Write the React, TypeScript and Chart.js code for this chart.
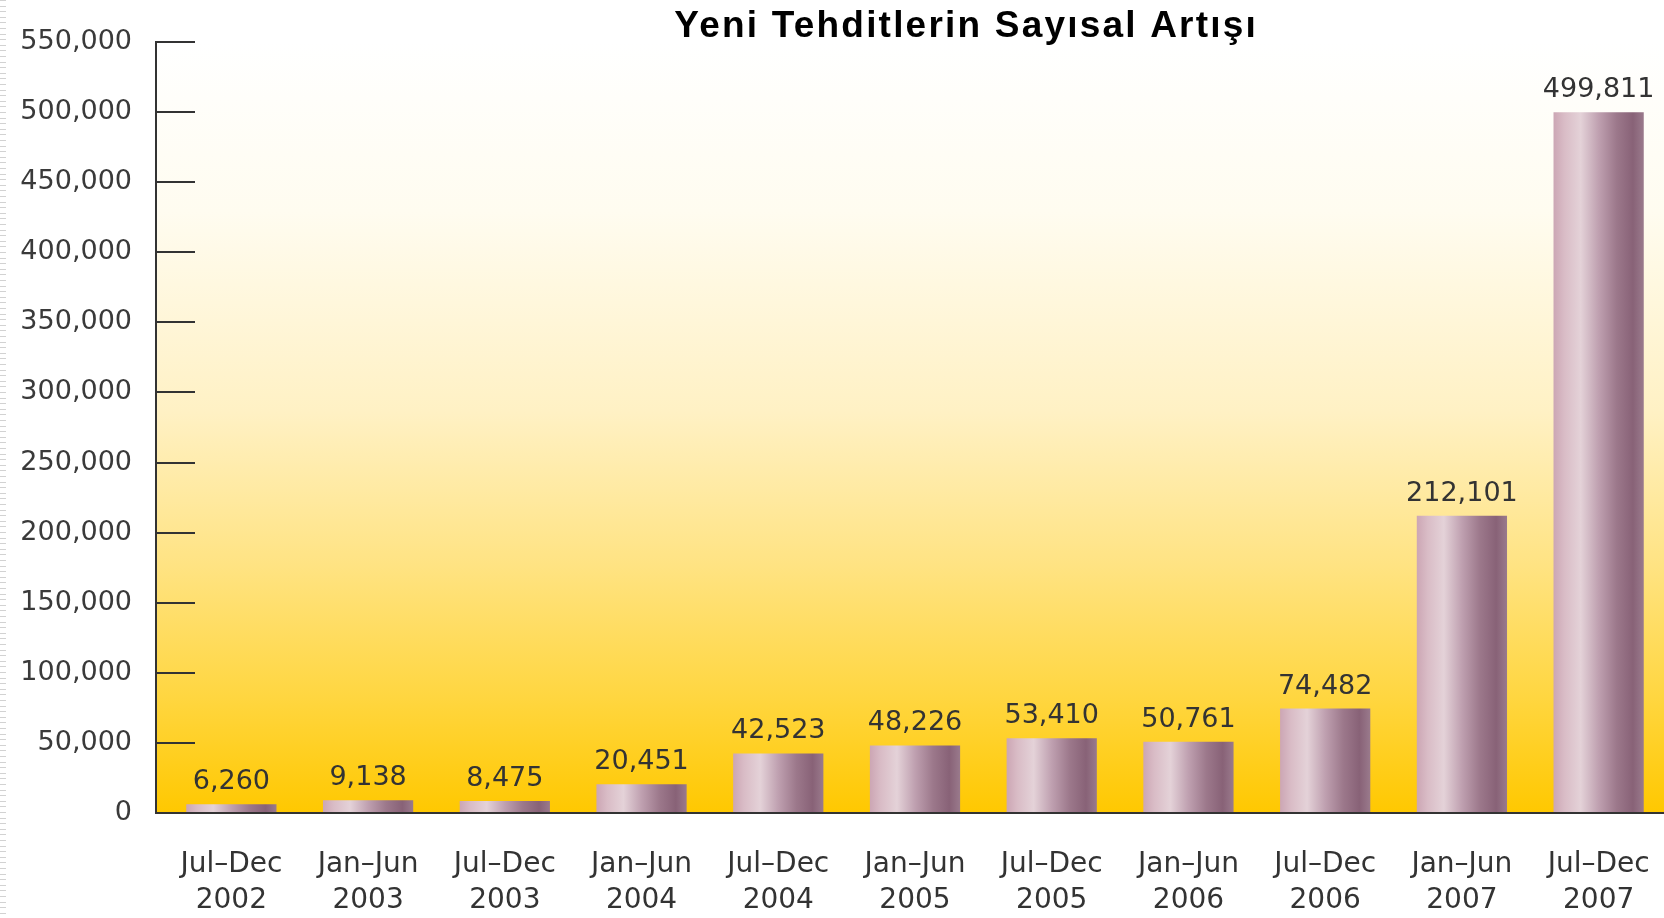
import { useEffect, useRef } from 'react';
import { Chart, registerables } from 'chart.js';

Chart.register(...registerables);

const TITLE = 'Yeni Tehditlerin Sayısal Artışı';
const periods = ['Jul–Dec', 'Jan–Jun', 'Jul–Dec', 'Jan–Jun', 'Jul–Dec', 'Jan–Jun', 'Jul–Dec', 'Jan–Jun', 'Jul–Dec', 'Jan–Jun', 'Jul–Dec'];
const years = ['2002', '2003', '2003', '2004', '2004', '2005', '2005', '2006', '2006', '2007', '2007'];
const newThreats = [6260, 9138, 8475, 20451, 42523, 48226, 53410, 50761, 74482, 212101, 499811];
const yMin = 0;
const yMax = 550000;
const yStep = 50000;

const BAR_PCT = 0.66;
const AXIS_GAP = 7;
const FONT = '"DejaVu Sans", Verdana, sans-serif';
const fmt = (v: number) => v.toLocaleString('en-US');

const plotBackground = {
  id: 'plotBackground',
  beforeDraw(chart: any) {
    const { ctx, chartArea } = chart;
    if (!chartArea) return;
    const g = ctx.createLinearGradient(0, chartArea.top, 0, chartArea.bottom);
    g.addColorStop(0, '#FFFFFF');
    g.addColorStop(0.22, '#FFFCF0');
    g.addColorStop(0.48, '#FFF1C4');
    g.addColorStop(0.68, '#FFE382');
    g.addColorStop(0.85, '#FFD640');
    g.addColorStop(1, '#FFC800');
    const left = chartArea.left - AXIS_GAP;
    ctx.save();
    ctx.fillStyle = g;
    ctx.fillRect(left, chartArea.top, chart.width - left, chartArea.bottom - chartArea.top);
    ctx.restore();
  },
};

const axesPlugin = {
  id: 'axesPlugin',
  afterDraw(chart: any) {
    const { ctx, chartArea } = chart;
    const y = chart.scales.y;
    const ax = chartArea.left - AXIS_GAP;
    ctx.save();
    ctx.strokeStyle = '#333333';
    ctx.lineWidth = 2;
    ctx.beginPath();
    ctx.moveTo(ax, chartArea.top - 1);
    ctx.lineTo(ax, chartArea.bottom + 1);
    ctx.stroke();
    ctx.beginPath();
    ctx.moveTo(ax - 1, chartArea.bottom);
    ctx.lineTo(chart.width, chartArea.bottom);
    ctx.stroke();
    y.ticks.forEach((t: any) => {
      if (t.value === yMin) return;
      const py = Math.round(y.getPixelForValue(t.value));
      ctx.beginPath();
      ctx.moveTo(ax, py);
      ctx.lineTo(ax + 39, py);
      ctx.stroke();
    });
    ctx.restore();
  },
};

const valueLabels = {
  id: 'valueLabels',
  afterDatasetsDraw(chart: any) {
    const { ctx } = chart;
    const meta = chart.getDatasetMeta(0);
    ctx.save();
    ctx.font = `27px ${FONT}`;
    ctx.fillStyle = '#333333';
    ctx.textAlign = 'center';
    ctx.textBaseline = 'alphabetic';
    meta.data.forEach((el: any, i: number) => {
      ctx.fillText(fmt(newThreats[i]), el.x, el.y - 15);
    });
    ctx.restore();
  },
};

const titlePlugin = {
  id: 'customTitle',
  afterDraw(chart: any) {
    const { ctx, chartArea } = chart;
    ctx.save();
    ctx.font = `bold 37px "Liberation Sans", Arial, sans-serif`;
    try { (ctx as any).letterSpacing = '2.2px'; } catch (e) { /* ignore */ }
    ctx.fillStyle = '#000000';
    ctx.textAlign = 'center';
    ctx.textBaseline = 'middle';
    const cx = chartArea.left + (chartArea.right - chartArea.left) * 0.534;
    ctx.fillText(TITLE, cx, 27);
    ctx.restore();
  },
};

function barGradient(ctx: any) {
  const chart = ctx.chart;
  const xs = chart.scales && chart.scales.x;
  if (!xs || !chart.chartArea || !xs.width) return '#B898A8';
  const c = xs.getPixelForValue(ctx.dataIndex);
  const half = (xs.width / periods.length) * BAR_PCT / 2;
  const g = chart.ctx.createLinearGradient(c - half, 0, c + half, 0);
  g.addColorStop(0, '#CCA6B4');
  g.addColorStop(0.12, '#D9BCC6');
  g.addColorStop(0.3, '#E4D2D8');
  g.addColorStop(0.5, '#BFA0B0');
  g.addColorStop(0.7, '#9C788B');
  g.addColorStop(0.88, '#886277');
  g.addColorStop(1, '#9A7A8C');
  return g;
}

export default function App() {
  const canvasRef = useRef<HTMLCanvasElement | null>(null);

  useEffect(() => {
    if (!canvasRef.current) return;
    const chart = new Chart(canvasRef.current, {
      type: 'bar',
      data: {
        labels: periods.map((p, i) => [p, years[i]]),
        datasets: [
          {
            data: newThreats,
            backgroundColor: barGradient,
            borderWidth: 0,
            categoryPercentage: 1,
            barPercentage: BAR_PCT,
          },
        ],
      },
      options: {
        animation: false,
        responsive: true,
        maintainAspectRatio: false,
        layout: { padding: { top: 42, left: 0, right: 0, bottom: 0 } },
        plugins: {
          legend: { display: false },
          title: { display: false },
          tooltip: { enabled: false },
        },
        scales: {
          x: {
            offset: true,
            grid: { display: false, drawTicks: false },
            border: { display: false },
            ticks: {
              color: '#333333',
              font: { family: FONT, size: 28, lineHeight: 1.28 },
              padding: 34,
              maxRotation: 0,
              autoSkip: false,
            },
            afterFit(scale: any) {
              scale.height = 105;
              scale.paddingLeft = 0;
              scale.paddingRight = 0;
            },
          },
          y: {
            min: yMin,
            max: yMax,
            grid: { display: false, drawTicks: false },
            border: { display: false },
            ticks: {
              stepSize: yStep,
              color: '#3a3a3a',
              font: { family: FONT, size: 27 },
              padding: 31,
              callback: (v: any) => fmt(Number(v)),
            },
            afterFit(scale: any) {
              scale.width = 163;
              scale.paddingTop = 0;
              scale.paddingBottom = 0;
            },
          },
        },
      },
      plugins: [plotBackground, axesPlugin, valueLabels, titlePlugin],
    });
    return () => chart.destroy();
  }, []);

  return (
    <div
      style={{
        position: 'fixed',
        left: 0,
        top: 0,
        width: 1664,
        height: 918,
        overflow: 'hidden',
        background: '#ffffff',
      }}
    >
      <div style={{ position: 'absolute', left: 0, top: 0, width: 1667, height: 918 }}>
        <canvas ref={canvasRef} />
      </div>
      <div
        style={{
          position: 'absolute',
          left: 0,
          top: 0,
          width: 6,
          height: 918,
          background:
            'repeating-linear-gradient(to bottom, #d2d2d2 0px, #d2d2d2 1px, transparent 1px, transparent 5.6px)',
        }}
      />
    </div>
  );
}
